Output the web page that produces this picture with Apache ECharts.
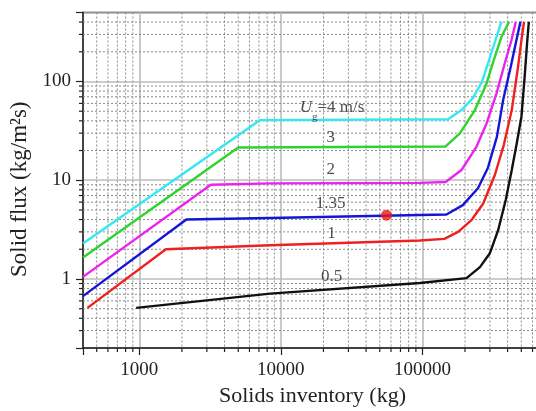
<!DOCTYPE html>
<html>
<head>
<meta charset="utf-8">
<script src="https://cdn.jsdelivr.net/npm/echarts@6/dist/echarts.min.js"></script>
<style>
html,body{margin:0;padding:0;background:#fff;}
#chart{width:536px;height:411px;}
</style>
</head>
<body>
<div id="chart"></div>
<script>
// curves: [solids inventory (kg), solid flux (kg/m2s)]
let ug05 = [[950,0.51],[8400,0.71],[96000,0.91],[205000,1.02],[255000,1.32],[299000,1.81],[343000,3.12],[388000,6.3],[428000,12.7],[464000,23.6],[501000,44],[528000,112],[549000,244],[565000,403]];
let ug1 = [[430,0.51],[1540,2.0],[8400,2.2],[96000,2.45],[143000,2.55],[179000,3.0],[222000,3.94],[269000,5.82],[325000,11.3],[376000,22.7],[428000,51.4],[474000,141],[501000,263],[523000,403]];
let ug135 = [[400,0.67],[2150,4.0],[8400,4.15],[96000,4.45],[148000,4.5],[193000,5.6],[247000,8.3],[290000,13.3],[336000,27.5],[372000,64.9],[421000,141],[462000,263],[493000,403]];
let ug2 = [[400,1.05],[3200,9.0],[8400,9.3],[96000,9.4],[146000,9.6],[189000,12.7],[241000,21.8],[284000,37.6],[334000,75.8],[382000,153],[426000,263],[457000,403]];
let ug3 = [[400,1.65],[5000,21.5],[146000,22.0],[184000,29.8],[235000,51.4],[284000,95.7],[325000,178],[362000,284],[410000,403]];
let ug4 = [[400,2.29],[7100,40.6],[152000,41.5],[189000,51.4],[227000,67.9],[263000,98.7],[299000,173],[334000,284],[362000,403]];
let operPoint = [[55800,4.43]];

let curveNames = ['0.5','1','1.35','2','3','4'];
let curveColors = ['#111111','#ee2020','#1515d8','#ee22ee','#2ed42e','#33e8f0'];

let annoText = ['{u|U}{s|g}{n|=4 m/s}','3','2','1.35','1','0.5'];
let annoPos = [[23000,53],[22500,27.2],[22500,12.7],[22500,5.82],[22800,2.89],[22800,1.05]];

// minor grid values (log decades 2..9)
let xMinor = [500,600,700,800,900,2000,3000,4000,5000,6000,7000,8000,9000,20000,30000,40000,50000,60000,70000,80000,90000,200000,300000,400000,500000,600000];
let yMinor = [0.3,0.4,0.5,0.6,0.7,0.8,0.9,2,3,4,5,6,7,8,9,20,30,40,50,60,70,80,90,200,300,400];

let serif = 'Liberation Serif';
let myChart = echarts.init(document.getElementById('chart'));

function isPow10(v) {
    let l = Math.log10(v);
    return Math.abs(l - Math.round(l)) < 1e-6;
}

function minorGrid(dir) {
    return function (params, api) {
        let cs = params.coordSys;
        let line, tick;
        if (dir === 'x') {
            let p = api.coord([api.value(0), 1])[0];
            line = {x1: p, y1: cs.y, x2: p, y2: cs.y + cs.height};
            tick = {x1: p, y1: cs.y + cs.height, x2: p, y2: cs.y + cs.height + 4};
        } else {
            let p = api.coord([1000, api.value(1)])[1];
            line = {x1: cs.x, y1: p, x2: cs.x + cs.width, y2: p};
            tick = {x1: cs.x - 4, y1: p, x2: cs.x, y2: p};
        }
        return {
            type: 'group',
            children: [
                {type: 'line', shape: line, style: {stroke: '#8a8a8a', lineWidth: 1, lineDash: [2, 2]}},
                {type: 'line', shape: tick, style: {stroke: '#222', lineWidth: 1.2}}
            ]
        };
    };
}

let series = [];
series.push({
    type: 'custom', clip: false, z: 1, silent: true,
    renderItem: minorGrid('x'),
    data: xMinor.map(v => [v, 1])
});
series.push({
    type: 'custom', clip: false, z: 1, silent: true,
    renderItem: minorGrid('y'),
    data: yMinor.map(v => [1000, v])
});
let curves = [ug05, ug1, ug135, ug2, ug3, ug4];
for (let i = 0; i < curves.length; i++) {
    series.push({
        name: curveNames[i],
        type: 'line',
        z: 3,
        data: curves[i],
        showSymbol: false,
        lineStyle: {color: curveColors[i], width: 2.4},
        itemStyle: {color: curveColors[i]}
    });
}
series.push({
    type: 'scatter', z: 5,
    data: operPoint,
    symbolSize: 11,
    itemStyle: {color: '#f01515'}
});
series.push({
    type: 'scatter', z: 6,
    symbolSize: 0,
    data: annoPos.map((p, i) => ({value: p, label: {formatter: annoText[i]}})),
    label: {
        show: true, position: 'inside',
        fontFamily: serif, fontSize: 17, color: '#222',
        rich: {
            u: {fontFamily: serif, fontStyle: 'italic', fontSize: 17, lineHeight: 20, verticalAlign: 'top', color: '#222'},
            s: {fontFamily: serif, fontSize: 11, lineHeight: 12, padding: [13, 0, 0, 0], verticalAlign: 'top', color: '#222'},
            n: {fontFamily: serif, fontSize: 17, lineHeight: 20, verticalAlign: 'top', color: '#222'}
        }
    }
});

let option = {
    animation: false,
    backgroundColor: '#fff',
    grid: {
        left: 83, right: -6, top: 12.5, bottom: 63,
        outerBoundsMode: 'none',
        show: true, borderColor: '#222', borderWidth: 1.5, backgroundColor: 'transparent'
    },
    xAxis: {
        type: 'log', logBase: 10, min: 400, max: 700000,
        axisLine: {lineStyle: {color: '#222', width: 1.5}},
        axisTick: {inside: false, length: 7, lineStyle: {color: '#222', width: 1.2}},
        axisLabel: {
            formatter: v => isPow10(v) ? String(Math.round(v)) : '',
            fontFamily: serif, fontSize: 19, color: '#222', margin: 13
        },
        splitLine: {show: true, lineStyle: {color: '#bcbcbc', width: 1.6}},
        name: 'Solids inventory (kg)', nameLocation: 'middle', nameGap: 37,
        nameTextStyle: {fontFamily: serif, fontSize: 22, color: '#222'}
    },
    yAxis: {
        type: 'log', logBase: 10, min: 0.2, max: 500,
        axisLine: {lineStyle: {color: '#222', width: 1.5}},
        axisTick: {inside: false, length: 7, lineStyle: {color: '#222', width: 1.2}},
        axisLabel: {
            formatter: v => isPow10(v) ? String(+v.toPrecision(3)) : '',
            fontFamily: serif, fontSize: 19, color: '#222', margin: 12
        },
        splitLine: {show: true, lineStyle: {color: '#bcbcbc', width: 1.6}},
        name: 'Solid flux (kg/m\u00b2s)', nameLocation: 'middle', nameGap: 50,
        nameTextStyle: {fontFamily: serif, fontSize: 23, color: '#222', padding: [0, 18, 0, 0]}
    },
    series: series
};
myChart.setOption(option);
</script>
</body>
</html>
